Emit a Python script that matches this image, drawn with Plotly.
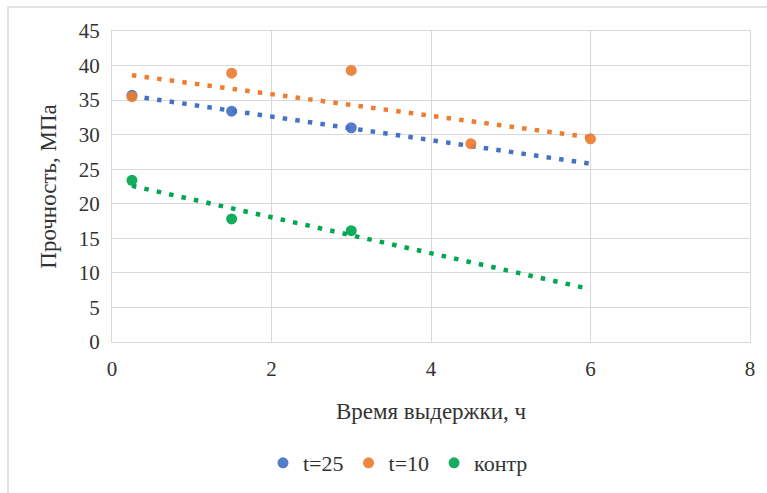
import plotly.graph_objects as go

# ---- data ----
x_t25 = [0.25, 1.5, 3.0]
y_t25 = [35.7, 33.4, 31.0]
x_t10 = [0.25, 1.5, 3.0, 4.5, 6.0]
y_t10 = [35.5, 38.9, 39.3, 28.7, 29.4]
x_kontr = [0.25, 1.5, 3.0]
y_kontr = [23.4, 17.8, 16.1]

# trendline endpoints
trend_x_t25 = [0.25, 6.0]
trend_y_t25 = [35.6, 25.8]
trend_x_t10 = [0.25, 6.0]
trend_y_t10 = [38.6, 29.6]
trend_x_kontr = [0.25, 5.9]
trend_y_kontr = [22.6, 7.9]

names = ["t=25", "t=10", "контр"]
colors = ["#4472C4", "#ED7D31", "#00A650"]

x_ticks = [0, 2, 4, 6, 8]
y_ticks = [0, 5, 10, 15, 20, 25, 30, 35, 40, 45]

FONT = '"Liberation Serif", "DejaVu Serif", serif'
TXT = "#333333"

fig = go.Figure()

series = [
    (x_t25, y_t25, trend_x_t25, trend_y_t25),
    (x_t10, y_t10, trend_x_t10, trend_y_t10),
    (x_kontr, y_kontr, trend_x_kontr, trend_y_kontr),
]

for (xs, ys, tx, ty), name, col in zip(series, names, colors):
    fig.add_trace(go.Scatter(
        x=tx, y=ty, mode="lines", showlegend=False, hoverinfo="skip",
        line=dict(color=col, width=4.5, dash="4.5px,8.2px"),
    ))

for (xs, ys, tx, ty), name, col in zip(series, names, colors):
    fig.add_trace(go.Scatter(
        x=xs, y=ys, mode="markers", name=name,
        marker=dict(color=col, size=11, opacity=0.92),
    ))

L, R, T, B = 112, 750, 31, 342
W, H = 767, 493
pw, ph = R - L, B - T

fig.update_layout(
    width=W, height=H,
    margin=dict(l=L, r=W - R, t=T, b=H - B, pad=0, autoexpand=False),
    paper_bgcolor="white", plot_bgcolor="white",
    font=dict(family=FONT, size=21, color=TXT),
    showlegend=True,
    legend=dict(orientation="h", x=(398 - L) / pw, xanchor="center",
                y=(B - 463) / ph, yanchor="middle",
                font=dict(family=FONT, size=22, color=TXT),
                itemwidth=30, tracegroupgap=0,
                bgcolor="rgba(0,0,0,0)"),
    xaxis=dict(range=[0, 8], tickvals=x_ticks, ticktext=[str(v) for v in x_ticks],
               showgrid=True, gridcolor="#D9D9D9", gridwidth=1,
               zeroline=False, showline=True, linecolor="#D9D9D9", mirror=True,
               ticks="", ticklabelstandoff=8,
               tickfont=dict(family=FONT, size=21, color=TXT),
               title=dict(text="Время выдержки, ч", standoff=22,
                          font=dict(family=FONT, size=23, color=TXT))),
    yaxis=dict(range=[0, 45], tickvals=y_ticks, ticktext=[str(v) for v in y_ticks],
               showgrid=True, gridcolor="#D9D9D9", gridwidth=1,
               zeroline=False, showline=True, linecolor="#D9D9D9", mirror=True,
               ticks="", ticklabelstandoff=7,
               tickfont=dict(family=FONT, size=21, color=TXT),
               title=dict(text="Прочность, МПа", standoff=15,
                          font=dict(family=FONT, size=23, color=TXT))),
    shapes=[dict(type="rect", xref="paper", yref="paper",
                 x0=(8 - L) / pw, x1=(800 - L) / pw,
                 y0=(B - 520) / ph, y1=(B - 7) / ph,
                 line=dict(color="#D9D9D9", width=1.5), layer="below")],
)

fig.write_html("out.html")
